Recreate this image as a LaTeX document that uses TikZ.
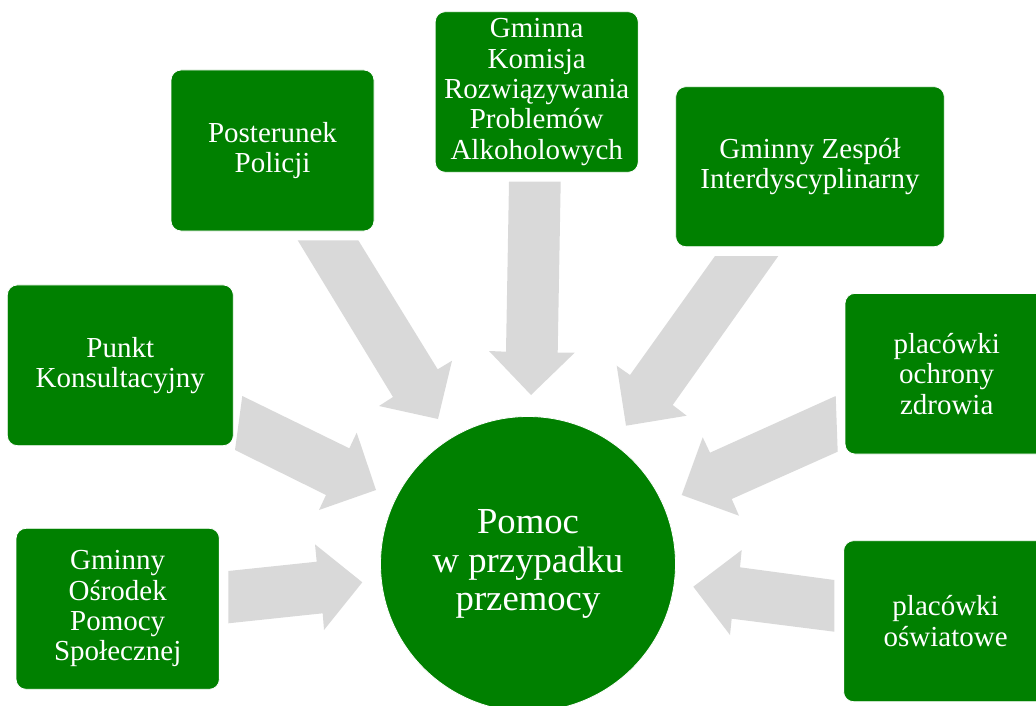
\documentclass[tikz,border=0pt]{standalone}
\usepackage{fontspec}
\setmainfont{Liberation Serif}
\definecolor{boxgreen}{RGB}{0,128,0}
\definecolor{arrowgray}{RGB}{217,217,217}
\tikzset{
  box/.style={fill=boxgreen, draw=white, line width=0.8pt, rounded corners=10pt,
    text=white, align=center, inner sep=0pt,
    font=\fontsize{29}{30.4}\selectfont},
  hub/.style={circle, fill=boxgreen, draw=white, line width=0.8pt, text=white,
    align=center, inner sep=0pt, font=\fontsize{36.7}{38.3}\selectfont},
  blockarrow/.style={fill=arrowgray}
}
\begin{document}
\begin{tikzpicture}[x=1pt,y=-1pt]
\useasboundingbox (0,0) rectangle (1036,706);
\clip (0,0) rectangle (1036,706);
% block arrows
\fill[blockarrow] (297.7,240.3) -- (393,397) -- (379,406) -- (438,419) -- (452,360.7) -- (437.7,369.3) -- (358.3,240.3) -- cycle;
\fill[blockarrow] (509,181.7) -- (506,351.7) -- (489,351) -- (531,395) -- (574.7,352.7) -- (557.7,352.7) -- (560.7,181.7) -- cycle;
\fill[blockarrow] (715,256) -- (630,375) -- (616.7,365.7) -- (626,425.7) -- (686.7,415.7) -- (672.7,405) -- (778.3,256) -- cycle;
\fill[blockarrow] (242.3,396) -- (349.3,448.3) -- (356.7,432.7) -- (376,490) -- (319,510) -- (326,495) -- (235,450) -- cycle;
\fill[blockarrow] (228.3,571) -- (316.7,561.7) -- (315,544.3) -- (362.3,582.3) -- (324,630) -- (322.7,613.3) -- (228.3,623.3) -- cycle;
\fill[blockarrow] (835.7,396) -- (710,452.7) -- (702.7,437.3) -- (681.7,495) -- (739,515.7) -- (731.7,499) -- (837.7,451.7) -- cycle;
\fill[blockarrow] (834.3,580) -- (740,567.3) -- (741.7,550) -- (693.3,586.7) -- (730,635) -- (731.7,618.7) -- (834.3,631.7) -- cycle;
% boxes
\node[box, minimum width=203pt, minimum height=161pt] (policja) at (272.5,150.5) {Posterunek\\Policji};
\node[box, minimum width=203pt, minimum height=160.6pt] (gkrpa) at (536.7,92) {Gminna\\Komisja\\Rozwiązywania\\Problemów\\Alkoholowych};
\node[box, minimum width=268.6pt, minimum height=160pt] (gzi) at (810,166.7) {Gminny Zespół\\Interdyscyplinarny};
\node[box, minimum width=226pt, minimum height=160.7pt] (punkt) at (120.3,365.3) {Punkt\\Konsultacyjny};
\node[box, minimum width=203.3pt, minimum height=161pt] (gops) at (117.7,608.8) {Gminny\\Ośrodek\\Pomocy\\Społecznej};
\node[box, minimum width=203.4pt, minimum height=160.7pt] (zdrowie) at (946.7,373.7) {placówki\\ochrony\\zdrowia};
\node[box, minimum width=204pt, minimum height=161pt] (oswiata) at (945.6,621.2) {placówki\\oświatowe};
% hub
\node[hub, minimum size=295pt] (pomoc) at (528,564) {Pomoc\\w przypadku\\przemocy};
\end{tikzpicture}
\end{document}
